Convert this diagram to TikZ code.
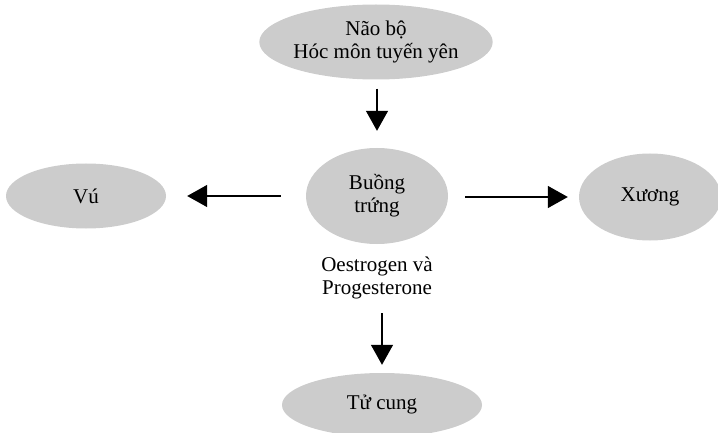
\documentclass[tikz,border=0pt]{standalone}
\usepackage{fontspec}
\setmainfont{Liberation Serif}
\usetikzlibrary{shapes.geometric,arrows.meta}
\begin{document}
\begin{tikzpicture}[x=1pt,y=-1pt,
  blob/.style={ellipse,fill=black!20,draw=none,inner sep=0pt,align=center,
    font=\fontsize{21}{23}\selectfont},
  lbl/.style={inner sep=0pt,align=center,font=\fontsize{21}{23}\selectfont},
  arr/.style={line width=1.4pt,-{Triangle[length=20pt,width=22pt]}}]
\useasboundingbox (0,0) rectangle (718,433);
\node[blob,minimum width=222pt,minimum height=75pt] (nao) at (376,42) {Não bộ\\Hóc môn tuyến yên};
\node[blob,minimum width=142pt,minimum height=96pt] (bt) at (377,196) {Buồng\\trứng};
\node[blob,minimum width=160pt,minimum height=65pt] (vu) at (86,196) {Vú};
\node[blob,minimum width=142pt,minimum height=87pt] (xu) at (650,197) {Xương};
\node[blob,minimum width=200pt,minimum height=64pt] (tc) at (382,405) {Tử cung};
\node[lbl] (hor) at (377,278) {Oestrogen và\\Progesterone};
\draw[arr,shorten <=9pt,shorten >=17pt] (nao.south -| bt.north) -- (bt.north);
\draw[arr,shorten <=25pt,shorten >=21pt] (bt.west) -- (vu.east);
\draw[arr,shorten <=17pt,shorten >=11pt] (bt.east |- xu.west) -- (xu.west);
\draw[arr,shorten <=14pt,shorten >=8pt] (hor.south -| tc.north) -- (tc.north);
\end{tikzpicture}
\end{document}
